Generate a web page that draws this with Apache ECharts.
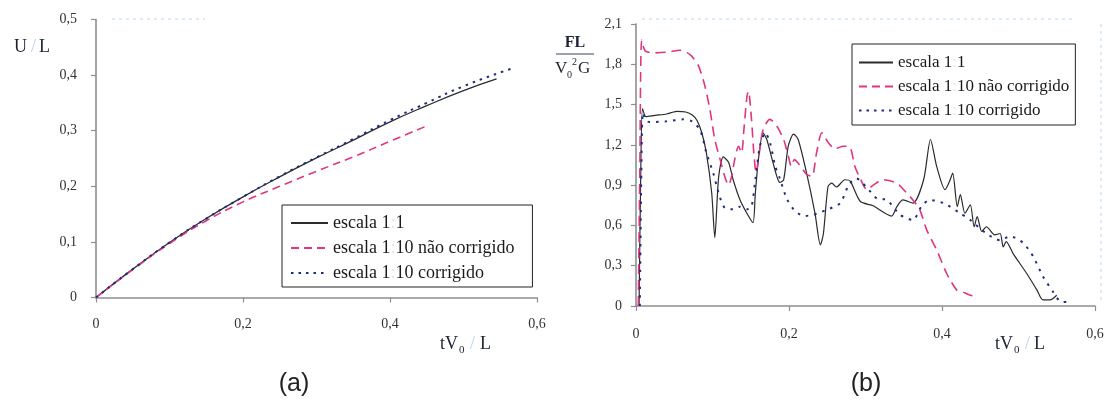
<!DOCTYPE html>
<html>
<head>
<meta charset="utf-8">
<script src="https://cdn.jsdelivr.net/npm/echarts@6.0.0/dist/echarts.min.js"></script>
<style>
  html, body { margin: 0; padding: 0; background: #ffffff; }
  #chart { width: 1114px; height: 409px; }
</style>
</head>
<body>
<div id="chart"></div>
<script>
// Series names shared by both panels
const seriesNames = ['escala 1:1', 'escala 1:10 não corrigido', 'escala 1:10 corrigido'];

// Panel (a): displacement U/L versus tV0/L
const dispEscala11 = [
  [0, 0], [0.05, 0.051], [0.1, 0.099], [0.15, 0.142], [0.2, 0.181], [0.25, 0.217],
  [0.3, 0.251], [0.35, 0.283], [0.4, 0.316], [0.45, 0.345], [0.5, 0.372], [0.545, 0.393]
];
const dispNaoCorrigido = [
  [0, 0], [0.05, 0.05], [0.1, 0.097], [0.15, 0.138], [0.2, 0.172], [0.25, 0.2],
  [0.3, 0.227], [0.35, 0.253], [0.4, 0.281], [0.449, 0.308]
];
const dispCorrigido = [
  [0, 0], [0.05, 0.051], [0.1, 0.099], [0.15, 0.142], [0.2, 0.181], [0.25, 0.218],
  [0.3, 0.252], [0.35, 0.285], [0.4, 0.319], [0.45, 0.35], [0.5, 0.38], [0.564, 0.411]
];

// Panel (b): normalised force FL/(V0^2 G) versus tV0/L
const forceEscala11 = [
  [0.004, 0], [0.006, 0.9], [0.0085, 1.47], [0.013, 1.41], [0.025, 1.42], [0.04, 1.43],
  [0.053, 1.45], [0.065, 1.445], [0.074, 1.42], [0.08, 1.38], [0.086, 1.29], [0.092, 1.14],
  [0.099, 0.84], [0.103, 0.51], [0.108, 0.96], [0.114, 1.11], [0.121, 1.07], [0.127, 0.94],
  [0.136, 0.79], [0.147, 0.67], [0.153, 0.62], [0.156, 0.84], [0.16, 1.09], [0.166, 1.29],
  [0.171, 1.24], [0.179, 1.07], [0.188, 0.92], [0.193, 0.94], [0.199, 1.19], [0.206, 1.28],
  [0.212, 1.24], [0.223, 0.99], [0.234, 0.69], [0.241, 0.455], [0.245, 0.54], [0.251, 0.89],
  [0.256, 0.915], [0.262, 0.886], [0.273, 0.94], [0.28, 0.93], [0.293, 0.78], [0.31, 0.746],
  [0.334, 0.67], [0.341, 0.74], [0.349, 0.79], [0.362, 0.766], [0.376, 0.94], [0.385, 1.24],
  [0.393, 1.04], [0.404, 0.866], [0.41, 0.93], [0.414, 0.99], [0.42, 0.74], [0.424, 0.83],
  [0.43, 0.69], [0.437, 0.754], [0.442, 0.59], [0.446, 0.666], [0.452, 0.555], [0.458, 0.59],
  [0.469, 0.53], [0.476, 0.54], [0.48, 0.44], [0.484, 0.48], [0.493, 0.39], [0.511, 0.24],
  [0.524, 0.12], [0.532, 0.045], [0.541, 0.045], [0.55, 0.08]
];
const forceNaoCorrigido = [
  [0.003, 0], [0.005, 1.0], [0.0074, 1.98], [0.012, 1.9], [0.023, 1.885], [0.04, 1.89],
  [0.0575, 1.905], [0.071, 1.87], [0.0815, 1.79], [0.09, 1.64], [0.0967, 1.46], [0.103, 1.24],
  [0.11, 1.09], [0.116, 0.965], [0.121, 0.9], [0.125, 0.965], [0.129, 1.09], [0.134, 1.19],
  [0.138, 1.14], [0.141, 1.31], [0.145, 1.56], [0.147, 1.6], [0.151, 1.39], [0.154, 1.14],
  [0.157, 0.99], [0.16, 1.09], [0.166, 1.31], [0.175, 1.39], [0.184, 1.34], [0.193, 1.24],
  [0.199, 1.12], [0.203, 1.04], [0.207, 1.09], [0.214, 1.05], [0.223, 0.98], [0.23, 0.965],
  [0.236, 1.14], [0.243, 1.29], [0.251, 1.22], [0.26, 1.17], [0.271, 1.19], [0.28, 1.18],
  [0.286, 1.04], [0.293, 0.95], [0.302, 0.866], [0.31, 0.9], [0.323, 0.94], [0.341, 0.915],
  [0.354, 0.84], [0.362, 0.79], [0.371, 0.716], [0.38, 0.567], [0.393, 0.418], [0.406, 0.244],
  [0.419, 0.12], [0.426, 0.107], [0.437, 0.08], [0.445, 0.075]
];
const forceCorrigido = [
  [0.005, 0], [0.007, 1.0], [0.009, 1.44], [0.013, 1.38], [0.018, 1.37], [0.04, 1.375],
  [0.062, 1.39], [0.073, 1.375], [0.084, 1.31], [0.092, 1.14], [0.101, 0.99], [0.108, 0.84],
  [0.116, 0.73], [0.127, 0.72], [0.136, 0.74], [0.145, 0.72], [0.151, 0.74], [0.156, 0.94],
  [0.162, 1.19], [0.169, 1.29], [0.175, 1.22], [0.182, 1.04], [0.188, 0.95], [0.197, 0.8],
  [0.206, 0.72], [0.219, 0.67], [0.232, 0.68], [0.249, 0.716], [0.267, 0.766], [0.278, 0.9],
  [0.288, 0.95], [0.302, 0.88], [0.315, 0.8], [0.328, 0.79], [0.345, 0.68], [0.362, 0.64],
  [0.373, 0.74], [0.384, 0.79], [0.402, 0.766], [0.424, 0.69], [0.437, 0.64], [0.458, 0.54],
  [0.476, 0.49], [0.489, 0.52], [0.506, 0.47], [0.519, 0.37], [0.532, 0.22], [0.545, 0.107],
  [0.556, 0.03], [0.565, 0.03]
];

// Axis ranges and tick steps
const axisA = { xMax: 0.6, xStep: 0.2, yMax: 0.5, yStep: 0.1 };
const axisB = { xMax: 0.6, xStep: 0.2, yMax: 2.1, yStep: 0.3 };

const SERIF = '"Liberation Serif", "Times New Roman", serif';
const SANS = '"Liberation Sans", Arial, sans-serif';
const INK = '#1d2235';
const FAINT = '#b9d3ee';
const FRAME = '#d3e3f3';
const AXIS_GREY = '#8e8e8e';
const BLACK = '#2b2b2b';
const PINK = '#e0357f';
const NAVY = '#1f2c86';

const fmt = v => (v === 0 ? '0' : v.toFixed(1).replace('.', ','));

function valueAxis(gridIndex, max, step, labelMargin) {
  return {
    type: 'value', gridIndex, min: 0, max, interval: step,
    axisLine: { show: true, onZero: false, lineStyle: { color: AXIS_GREY, width: 1.6 } },
    axisTick: { show: true, inside: false, length: 5, lineStyle: { color: AXIS_GREY, width: 1.2 } },
    splitLine: { show: false },
    axisLabel: { margin: labelMargin, formatter: fmt, color: '#333333', fontFamily: SERIF, fontSize: 14 }
  };
}

function legendBlock(left, top, fontSize, itemWidth, padding) {
  return {
    orient: 'vertical', left, top, padding,
    itemWidth, itemHeight: 14, itemGap: 7,
    selectedMode: false,
    // line-only keys: the marker dot of each key is hidden
    itemStyle: { opacity: 0 },
    backgroundColor: '#ffffff', borderColor: '#222222', borderWidth: 1, borderRadius: 0,
    data: seriesNames,
    formatter: name => {
      const i = name.indexOf(':');
      return '{t|' + name.slice(0, i) + '}{c|:}{t|' + name.slice(i + 1) + '}';
    },
    textStyle: {
      fontFamily: SERIF, fontSize, color: '#1a1a1a',
      rich: {
        t: { fontFamily: SERIF, fontSize, color: '#1a1a1a', lineHeight: 18 },
        c: { fontFamily: SERIF, fontSize, color: '#e4e7ef', lineHeight: 18 }
      }
    }
  };
}

function lineSeries(name, data, gi, color, width, type, smooth) {
  return {
    name, type: 'line', data, xAxisIndex: gi, yAxisIndex: gi,
    symbol: 'none', smooth, silent: true, z: 3,
    lineStyle: { color, width, type, cap: 'butt' },
    itemStyle: { color }
  };
}

function label(x, y, text, font, fill, align) {
  return {
    type: 'text', x, y, silent: true, z: 10,
    style: {
      text, font, fill,
      align: align || 'left', verticalAlign: 'middle',
      textAlign: align || 'left', textVerticalAlign: 'middle'
    }
  };
}

function frameLine(x1, y1, x2, y2) {
  return {
    type: 'line', silent: true, z: 1,
    shape: { x1, y1, x2, y2 },
    style: { stroke: FRAME, lineWidth: 1.5, lineDash: [3, 4] }
  };
}

const chart = echarts.init(document.getElementById('chart'), null, { renderer: 'canvas' });

chart.setOption({
  animation: false,
  backgroundColor: '#ffffff',
  grid: [
    { left: 96, top: 19.5, width: 441, height: 278 },
    { left: 636, top: 24, width: 459, height: 282 }
  ],
  xAxis: [
    valueAxis(0, axisA.xMax, axisA.xStep, 20),
    valueAxis(1, axisB.xMax, axisB.xStep, 21)
  ],
  yAxis: [
    valueAxis(0, axisA.yMax, axisA.yStep, 19),
    valueAxis(1, axisB.yMax, axisB.yStep, 14)
  ],
  legend: [
    legendBlock(282, 205, 18, 37, [9, 18, 5, 8]),
    legendBlock(852, 44, 17, 34, [10, 6, 6, 6])
  ],
  series: [
    lineSeries(seriesNames[0], dispEscala11, 0, BLACK, 1.3, 'solid', true),
    lineSeries(seriesNames[1], dispNaoCorrigido, 0, PINK, 1.6, [8, 5], true),
    lineSeries(seriesNames[2], dispCorrigido, 0, NAVY, 2, [2.5, 5], true),
    lineSeries(seriesNames[0], forceEscala11, 1, BLACK, 1.2, 'solid', 0.25),
    lineSeries(seriesNames[1], forceNaoCorrigido, 1, PINK, 1.6, [10, 6], 0.25),
    lineSeries(seriesNames[2], forceCorrigido, 1, NAVY, 2, [2.5, 6], 0.25)
  ],
  graphic: [
    // faint plot-area frame edges
    frameLine(112, 19, 205, 19),
    frameLine(642, 19, 1076, 19),
    frameLine(1101, 24, 1101, 300),
    // panel (a) axis titles
    label(14, 47, 'U', '18px ' + SERIF, INK),
    label(31, 47, '/', '18px ' + SERIF, FAINT),
    label(39, 47, 'L', '18px ' + SERIF, INK),
    label(440, 344, 'tV', '18px ' + SERIF, INK),
    label(459, 350, '0', '11px ' + SERIF, INK),
    label(470, 344, '/', '18px ' + SERIF, FAINT),
    label(480, 344, 'L', '18px ' + SERIF, INK),
    // panel (b) axis titles
    label(995, 344, 'tV', '18px ' + SERIF, INK),
    label(1014, 350, '0', '11px ' + SERIF, INK),
    label(1025, 344, '/', '18px ' + SERIF, FAINT),
    label(1034, 344, 'L', '18px ' + SERIF, INK),
    label(575, 43, 'FL', 'bold 16px ' + SERIF, INK, 'center'),
    {
      type: 'line', silent: true, z: 10,
      shape: { x1: 556, y1: 54, x2: 594, y2: 54 },
      style: { stroke: '#3a4260', lineWidth: 1 }
    },
    label(555, 69, 'V', '17px ' + SERIF, INK),
    label(567, 75, '0', '10px ' + SERIF, INK),
    label(572, 62, '2', '10px ' + SERIF, INK),
    label(578, 69, 'G', '17px ' + SERIF, INK),
    // panel captions
    label(294, 384, '(a)', '25px ' + SANS, '#222222', 'center'),
    label(866, 384, '(b)', '25px ' + SANS, '#222222', 'center')
  ]
});
</script>
</body>
</html>
